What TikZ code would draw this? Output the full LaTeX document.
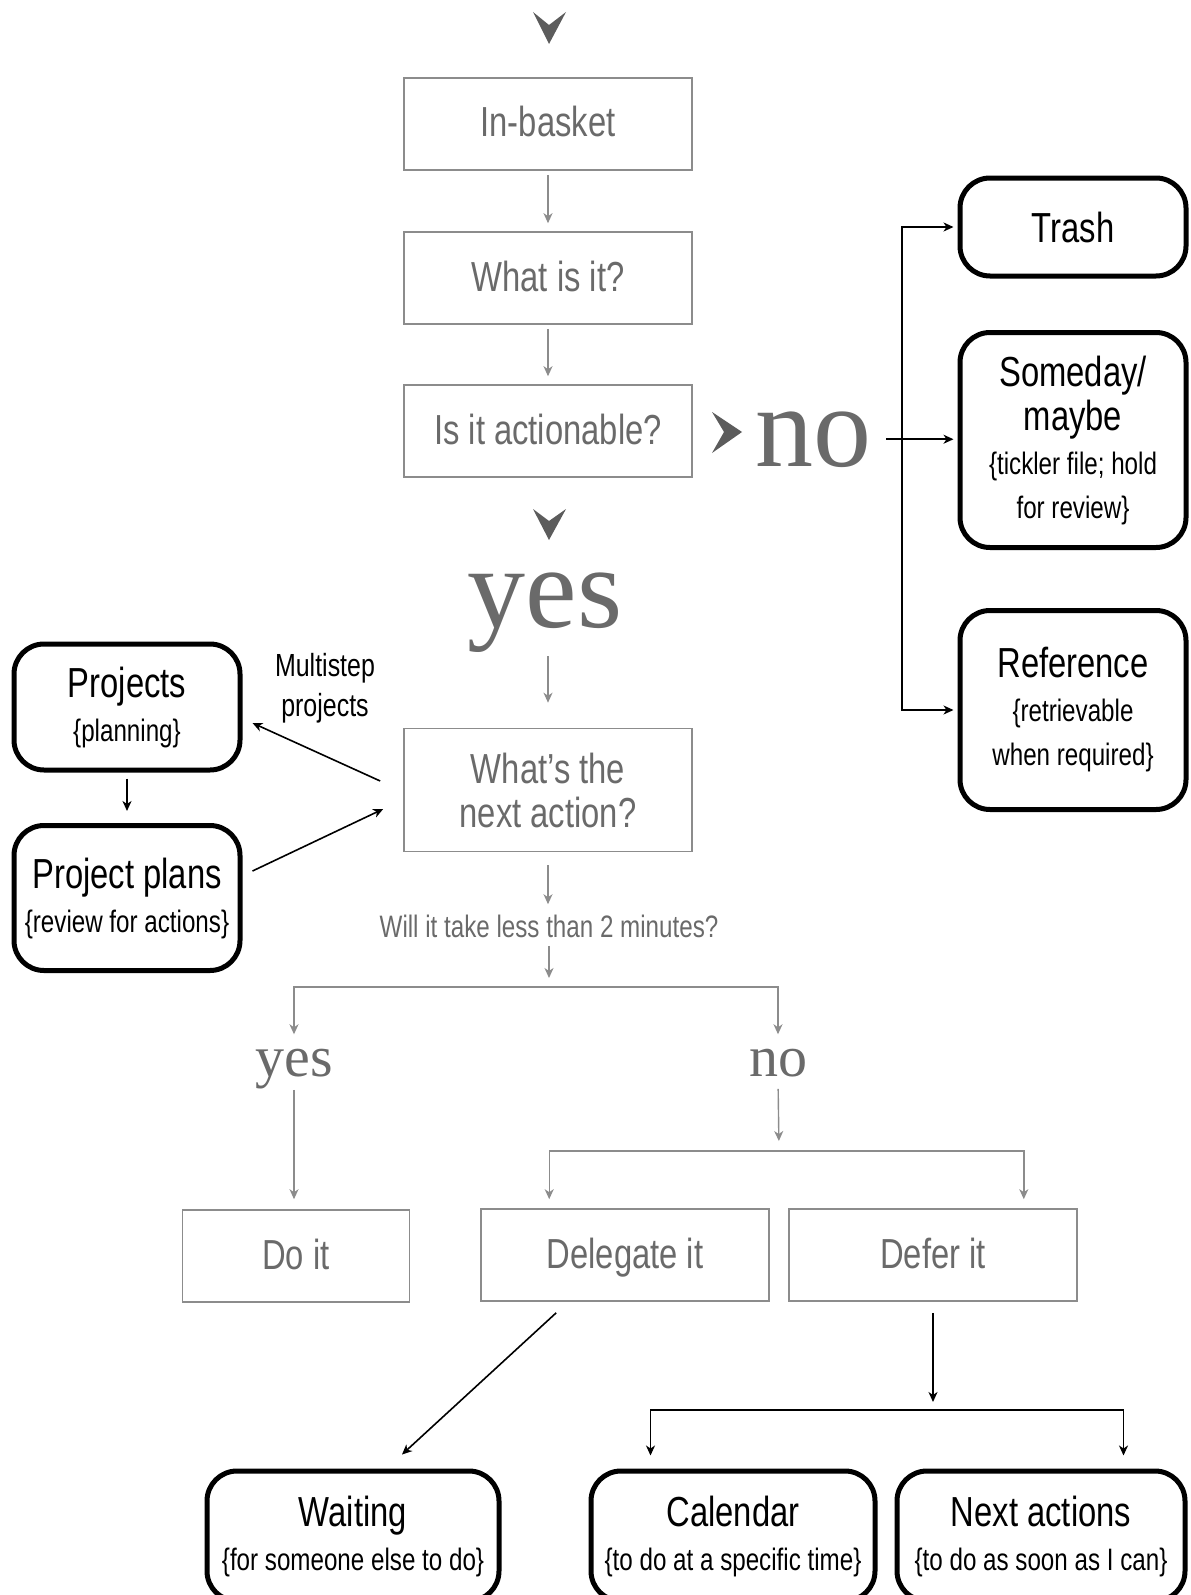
\documentclass[tikz,border=0pt]{standalone}
\usepackage{fontspec}
\setmainfont[FakeStretch=0.78]{Liberation Sans}
\newfontfamily\bigserif{Liberation Serif}
\usetikzlibrary{arrows.meta}

\definecolor{boxgray}{HTML}{8C8C8C}
\definecolor{txtgray}{HTML}{6A6A6A}
\definecolor{chevgray}{HTML}{5C5C5C}

\newcommand\ttl{\fontsize{21pt}{22pt}\selectfont}
\newcommand\subtxt{\fontsize{15.5pt}{19.5pt}\selectfont}
\newcommand\smalltxt{\fontsize{16pt}{20pt}\selectfont}

\tikzset{
	graybox/.style={draw=boxgray, line width=0.8pt, text=txtgray, minimum width=144pt, minimum height=46pt, font=\ttl, align=center, inner sep=0pt},
	oneline/.style={text height=14pt, text depth=1pt},
	blackbox/.style={draw, line width=2.5pt, rounded corners=15pt, minimum width=113pt, font=\ttl, align=center, inner sep=0pt},
	grayarr/.style={draw=boxgray, line width=0.7pt, -{Stealth[length=5pt,width=4.5pt,inset=1.5pt]}},
	blackarr/.style={draw=black, line width=0.8pt, -{Stealth[length=5pt,width=4.5pt,inset=1.5pt]}},
	bigword/.style={font=\bigserif\fontsize{58pt}{58pt}\selectfont, text=txtgray, inner sep=0pt, anchor=base},
	midword/.style={font=\bigserif\fontsize{29pt}{29pt}\selectfont, text=txtgray, inner sep=0pt, anchor=base}
}

\begin{document}
\begin{tikzpicture}[x=0.5pt,y=-0.5pt]
	\useasboundingbox (0,0) rectangle (1190,1595);
	\fill[chevgray] (533,12) -- (549,25) -- (566,12) -- (549,44) -- cycle;
	\node[graybox, oneline] (inbasket) at (548,124) {In-basket};
	\node[graybox, oneline] (whatis) at (548,278) {What is it?};
	\node[graybox, oneline] (actionable) at (548,431) {Is it actionable?};
	\fill[chevgray] (712,412) -- (724,432) -- (712,453) -- (742,432) -- cycle;
	\node[bigword] (nobig) at (813,466) {no};
	\fill[chevgray] (533,509) -- (549,521) -- (566,509) -- (549,540) -- cycle;
	\node[bigword] (yesbig) at (545,627) {yes};

	\node[blackbox, minimum height=49pt] (trash) at (1073,227) {Trash};
	\node[blackbox, minimum height=107.5pt] (someday) at (1073,440) {Someday/\\maybe\\\subtxt\{tickler file; hold\\\subtxt for review\}};
	\node[blackbox, minimum height=99.5pt] (reference) at (1073,710) {Reference\\\subtxt\{retrievable\\\subtxt when required\}};
	\coordinate (nosplit) at (902,0 |- nobig.east);

	\node[graybox, minimum height=61.5pt] (nextaction) at (548,790) {What’s the\\next action?};
	\node[font=\smalltxt, align=center, inner sep=0pt] (multistep) at (325,688) {Multistep\\projects};
	\node[blackbox, minimum height=63pt] (projects) at (127,707) {Projects\\\subtxt\{planning\}};
	\node[blackbox, minimum height=72.5pt] (plans) at (127,898) {Project plans\\\subtxt\{review for actions\}};

	\node[font=\subtxt, text=txtgray, inner sep=0pt] (willit) at (549,926) {Will it take less than 2 minutes?};
	\coordinate (split) at (549,987);
	\node[midword] (yessmall) at (294,1076) {yes};
	\node[midword] (nosmall) at (778,1076) {no};
	\coordinate (split2) at (779,1151);
	\node[graybox, oneline, minimum width=113.5pt] (doit) at (296,1256) {Do it};
	\node[graybox, oneline] (delegate) at (625,1255) {Delegate it};
	\node[graybox, oneline] (defer) at (933,1255) {Defer it};
	\coordinate (split3) at (933,1410);
	\node[blackbox, minimum width=146pt, minimum height=65pt] (waiting) at (353,1536) {Waiting\\\subtxt\{for someone else to do\}};
	\node[blackbox, minimum width=142pt, minimum height=65pt] (calendar) at (733,1536) {Calendar\\\subtxt\{to do at a specific time\}};
	\node[blackbox, minimum width=144pt, minimum height=65pt] (nextactions) at (1041,1536) {Next actions\\\subtxt\{to do as soon as I can\}};

	\draw[grayarr, shorten <=2pt, shorten >=4pt] (inbasket) -- (whatis);
	\draw[grayarr, shorten <=2pt, shorten >=4pt] (whatis) -- (actionable);
	\draw[blackarr, shorten <=7.5pt, shorten >=2pt] (nobig.east) -- (nobig.east -| someday.west);
	\draw[blackarr, shorten >=2pt] (nosplit) |- (trash.west);
	\draw[blackarr, shorten >=2pt] (nosplit) |- (reference.west);
	\draw[grayarr, shorten <=2pt, shorten >=12.5pt] (nextaction.north |- yesbig.south) -- (nextaction.north);
	\draw[blackarr] ([xshift=-11.5pt,yshift=4.5pt]nextaction.west) -- ([xshift=5pt,yshift=-8pt]projects.east);
	\draw[blackarr] ([xshift=5pt,yshift=13.5pt]plans.east) -- ([xshift=-10pt,yshift=-9.5pt]nextaction.west);
	\draw[blackarr, shorten <=3pt, shorten >=6pt] (projects) -- (plans);
	\draw[grayarr, shorten <=6.5pt, shorten >=5pt] (nextaction.south) -- (willit.north -| nextaction.south);
	\draw[grayarr, shorten <=4pt, shorten >=4.5pt] (willit.south -| split) -- (split);
	\draw[grayarr, shorten >=7pt] (split) -| (yessmall.north);
	\draw[grayarr, shorten >=7pt] (split) -| (nosmall.north);
	\draw[grayarr, shorten <=0.5pt, shorten >=5pt] (yessmall.south) -- (yessmall.south |- doit.north);
	\draw[grayarr, shorten <=6pt, shorten >=5pt] (nosmall.south) -- (split2);
	\draw[grayarr, shorten >=4.5pt] (split2) -| ([xshift=34.5pt]delegate.north west);
	\draw[grayarr, shorten >=4.5pt] (split2) -| ([xshift=-27pt]defer.north east);
	\draw[blackarr] ([xshift=38pt,yshift=-5.5pt]delegate.south west) -- ([xshift=24.5pt,yshift=7pt]waiting.north);
	\draw[blackarr, shorten <=5.5pt, shorten >=4pt] (defer.south) -- (split3);
	\draw[blackarr, shorten >=6.5pt] (split3) -| ([xshift=31pt]calendar.north west);
	\draw[blackarr, shorten >=6.5pt] (split3) -| ([xshift=-32pt]nextactions.north east);
\end{tikzpicture}
\end{document}
